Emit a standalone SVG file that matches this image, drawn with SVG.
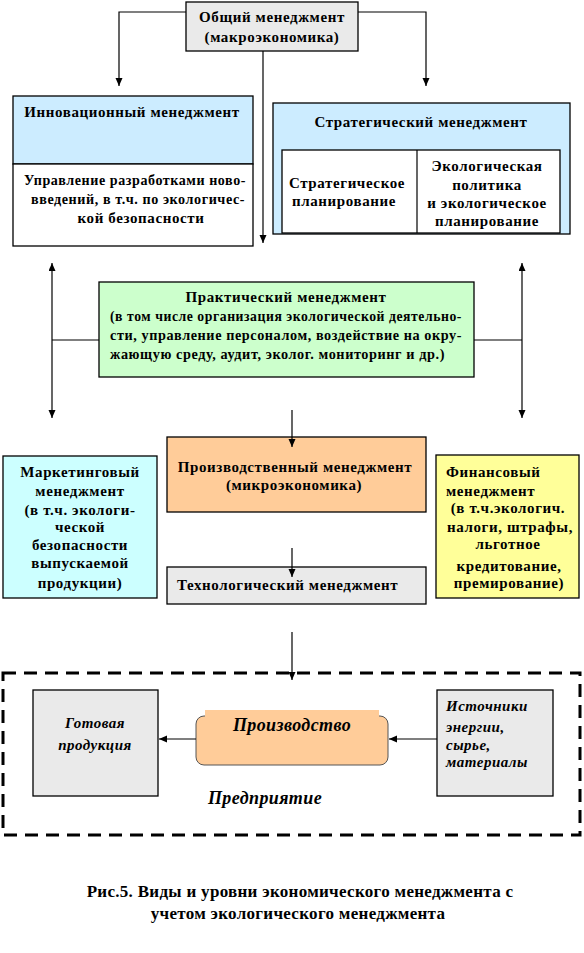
<svg xmlns="http://www.w3.org/2000/svg" width="584" height="953" viewBox="0 0 584 953" font-family="'Liberation Serif', 'DejaVu Serif', 'Times New Roman', serif">
<defs>
<marker id="ah" markerUnits="userSpaceOnUse" markerWidth="8" markerHeight="8" refX="8" refY="3.5" orient="auto-start-reverse">
<path d="M0,0 L8,3.5 L0,7 z" fill="#000"/>
</marker>
<style>
.box{stroke:#000;stroke-width:1.3}
.t{font-family:'Liberation Serif','DejaVu Serif',serif;font-weight:bold;font-size:15px;letter-spacing:0.6px;fill:#000;dominant-baseline:central}
.c{text-anchor:middle}
.i{font-style:italic;letter-spacing:0.5px}
.big{font-size:18px;letter-spacing:0.4px}
.cap{font-size:17px;letter-spacing:0.3px}
.ln{fill:none;stroke:#000;stroke-width:1.2}
.gray{fill:#eaeaea}
.blue{fill:#ccecff}
</style>
</defs>
<rect width="584" height="953" fill="#fff"/>

<g id="general">
<rect class="box gray" x="186" y="2" width="172" height="49"/>
<text class="t c" x="272" y="17">Общий менеджмент</text>
<text class="t c" x="272" y="37">(макроэкономика)</text>
</g>

<g id="innovation">
<rect class="box blue" x="13" y="96" width="240" height="68"/>
<rect class="box" fill="#fff" x="13" y="164" width="240" height="82"/>
<text class="t c" x="132" y="112">Инновационный менеджмент</text>
<text class="t c" x="135" y="180" textLength="222" lengthAdjust="spacingAndGlyphs">Управление разработками ново-</text>
<text class="t c" x="138" y="199" textLength="214" lengthAdjust="spacingAndGlyphs">введений, в т.ч. по экологичес-</text>
<text class="t c" x="141" y="218">кой безопасности</text>
</g>

<g id="strategic">
<rect class="box blue" x="273" y="103" width="297" height="131"/>
<text class="t c" x="421" y="122">Стратегический менеджмент</text>
<rect class="box" fill="#fff" x="282" y="150" width="278" height="83"/>
<line class="ln" x1="417" y1="150" x2="417" y2="233"/>
<text class="t c" x="347" y="183">Стратегическое</text>
<text class="t c" x="344" y="201">планирование</text>
<text class="t c" x="487" y="166">Экологическая</text>
<text class="t c" x="487" y="185">политика</text>
<text class="t c" x="487" y="203">и экологическое</text>
<text class="t c" x="487" y="221">планирование</text>
</g>

<g id="practical">
<rect class="box" fill="#ccffcc" x="99" y="282" width="375" height="95"/>
<text class="t c" x="286" y="297">Практический менеджмент</text>
<text class="t" x="110" y="316" textLength="352" lengthAdjust="spacingAndGlyphs">(в том числе организация экологической деятельно-</text>
<text class="t" x="110" y="335" textLength="352" lengthAdjust="spacingAndGlyphs">сти, управление персоналом, воздействие на окру-</text>
<text class="t" x="110" y="354" textLength="335" lengthAdjust="spacingAndGlyphs">жающую среду, аудит, эколог. мониторинг и др.)</text>
</g>

<g id="marketing">
<rect class="box" fill="#ccffff" x="3" y="456" width="154" height="142"/>
<text class="t c" x="80" y="472">Маркетинговый</text>
<text class="t c" x="80" y="491">менеджмент</text>
<text class="t c" x="80" y="510">(в т.ч. экологи-</text>
<text class="t c" x="80" y="527">ческой</text>
<text class="t c" x="80" y="545">безопасности</text>
<text class="t c" x="80" y="563">выпускаемой</text>
<text class="t c" x="80" y="583">продукции)</text>
</g>

<g id="production-mgmt">
<rect class="box" fill="#ffcc99" x="167" y="437" width="259" height="75"/>
<text class="t c" x="295" y="467">Производственный менеджмент</text>
<text class="t c" x="294" y="485">(микроэкономика)</text>
</g>

<g id="financial">
<rect class="box" fill="#ffff99" x="436" y="455" width="143" height="143"/>
<text class="t" x="446" y="472">Финансовый</text>
<text class="t" x="446" y="491">менеджмент</text>
<text class="t c" x="508" y="508">(в т.ч.экологич.</text>
<text class="t c" x="510" y="527">налоги, штрафы,</text>
<text class="t c" x="508" y="544">льготное</text>
<text class="t c" x="509" y="566">кредитование,</text>
<text class="t c" x="509" y="583">премирование)</text>
</g>

<g id="technological">
<rect class="box gray" x="167" y="567" width="259" height="37"/>
<text class="t" x="177" y="585">Технологический менеджмент</text>
</g>

<g id="enterprise">
<rect x="3" y="673" width="577" height="162" fill="none" stroke="#000" stroke-width="3" stroke-dasharray="13 8"/>
<text class="t c i big" x="265" y="798">Предприятие</text>
</g>

<g id="finished">
<rect class="box gray" x="33" y="690" width="125" height="106"/>
<text class="t c i" x="95" y="723">Готовая</text>
<text class="t c i" x="95" y="745">продукция</text>
</g>

<g id="production">
<rect x="196" y="716" width="192" height="49" rx="8" fill="#ffcc99" stroke="#555" stroke-width="1"/>
<rect x="205" y="710" width="174" height="10" fill="#ffcc99"/>
<text class="t c i big" x="292" y="725">Производство</text>
</g>

<g id="sources">
<rect class="box gray" x="437" y="690" width="116" height="106"/>
<text class="t i" x="446" y="706">Источники</text>
<text class="t i" x="446" y="727">энергии,</text>
<text class="t i" x="446" y="745">сырье,</text>
<text class="t i" x="446" y="762">материалы</text>
</g>

<g id="caption">
<text class="t c cap" x="300" y="891">Рис.5. Виды и уровни экономического менеджмента с</text>
<text class="t c cap" x="298" y="913">учетом экологического менеджмента</text>
</g>

<g id="connectors">
<path class="ln" d="M186,12 H119 V86" marker-end="url(#ah)"/>
<path class="ln" d="M358,12 H426 V86" marker-end="url(#ah)"/>
<path class="ln" d="M263,51 V243" marker-end="url(#ah)"/>
<path class="ln" d="M52,263 V418" marker-start="url(#ah)" marker-end="url(#ah)"/>
<path class="ln" d="M52,340 H99"/>
<path class="ln" d="M522,263 V418" marker-start="url(#ah)" marker-end="url(#ah)"/>
<path class="ln" d="M474,340 H522"/>
<path class="ln" d="M292,410 V447" marker-end="url(#ah)"/>
<path class="ln" d="M292,548 V577" marker-end="url(#ah)"/>
<path class="ln" d="M292,632 V680" marker-end="url(#ah)"/>
<path class="ln" d="M196,739 H159" marker-end="url(#ah)"/>
<path class="ln" d="M437,739 H389" marker-end="url(#ah)"/>
</g>
</svg>
